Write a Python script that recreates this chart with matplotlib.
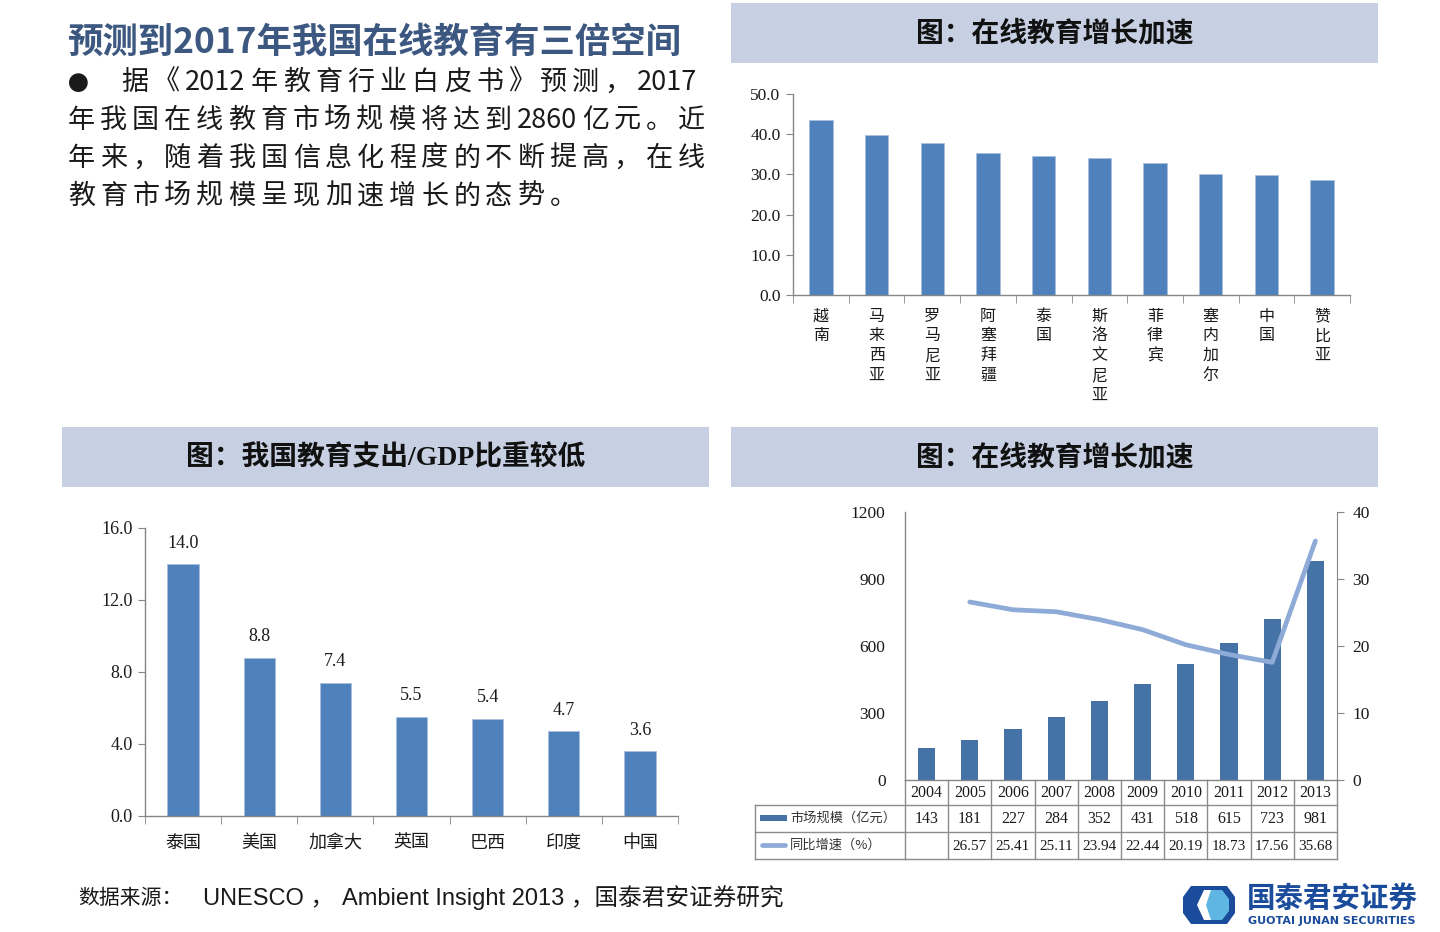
import re
import numpy as np
import matplotlib
matplotlib.use('Agg')
import matplotlib.pyplot as plt
from matplotlib.patches import Rectangle, Polygon
from matplotlib.lines import Line2D
from matplotlib.transforms import blended_transform_factory

# ---------------- data ----------------
countries_top = ['越南', '马来西亚', '罗马尼亚', '阿塞拜疆', '泰国', '斯洛文尼亚',
                 '菲律宾', '塞内加尔', '中国', '赞比亚']
values_top = [43.6, 39.7, 37.9, 35.3, 34.6, 34.2, 32.8, 30.2, 29.9, 28.6]
yticks_top = [0, 10, 20, 30, 40, 50]

countries_gdp = ['泰国', '美国', '加拿大', '英国', '巴西', '印度', '中国']
values_gdp = [14.0, 8.8, 7.4, 5.5, 5.4, 4.7, 3.6]
yticks_gdp = [0, 4, 8, 12, 16]

years = ['2004', '2005', '2006', '2007', '2008', '2009', '2010', '2011', '2012', '2013']
market = [143, 181, 227, 284, 352, 431, 518, 615, 723, 981]
growth = [np.nan, 26.57, 25.41, 25.11, 23.94, 22.44, 20.19, 18.73, 17.56, 35.68]
yticks_market = [0, 300, 600, 900, 1200]
yticks_growth = [0, 10, 20, 30, 40]
legend_market = '市场规模（亿元）'
legend_growth = '同比增速（%）'

title = '预测到2017年我国在线教育有三倍空间'
body_lines = ['据《2012年教育行业白皮书》预测，2017',
              '年我国在线教育市场规模将达到2860亿元。近',
              '年来，随着我国信息化程度的不断提高，在线',
              '教育市场规模呈现加速增长的态势。']
header_top = '图：在线教育增长加速'
header_bl = '图：我国教育支出/GDP比重较低'
header_br = '图：在线教育增长加速'

# ---------------- style ----------------
CJK = ['Noto Sans CJK SC', 'DejaVu Sans']
SERIF = ['Liberation Serif', 'Noto Sans CJK SC']
SANS = ['Liberation Sans', 'Noto Sans CJK SC']
plt.rcParams['font.family'] = SERIF
BAR = '#4f81bd'
BAR2 = '#4572a7'
LINE = '#8eaad6'
SPINE = '#868686'
HEAD = '#c6d0e2'
TXT = '#1a1a1a'

W, H = 1440, 932
fig = plt.figure(figsize=(14.4, 9.32), dpi=100)
fig.patch.set_facecolor('white')


def rect(x0, y0, x1, y1):
    return [x0 / W, 1 - y1 / H, (x1 - x0) / W, (y1 - y0) / H]


canvas = fig.add_axes([0, 0, 1, 1], zorder=0)
canvas.set_xlim(0, W)
canvas.set_ylim(H, 0)
canvas.axis('off')
renderer = fig.canvas.get_renderer()

# ---------------- header boxes ----------------
for (x0, y0, x1, y1), txt in [((731, 3, 1378, 63), header_top),
                              ((62, 427, 709, 487), header_bl),
                              ((731, 427, 1378, 487), header_br)]:
    canvas.add_patch(Rectangle((x0, y0), x1 - x0, y1 - y0, color=HEAD, lw=0))
    canvas.text((x0 + x1) / 2, (y0 + y1) / 2 + 1, txt, ha='center', va='center',
                fontsize=20, fontweight='bold', family=SERIF, color='#111')

# ---------------- left text block ----------------
canvas.text(68, 42, title, fontsize=25.5, fontweight='bold', color='#3c5780',
            family=CJK, ha='left', va='center')


def spaced(text, x0, y, fs, x1=None, gap=None):
    toks = re.findall(r'\d+|.', text)
    ts = [canvas.text(0, y, t, fontsize=fs, family=CJK, color=TXT,
                      ha='left', va='center') for t in toks]
    ws = [t.get_window_extent(renderer).width for t in ts]
    if x1 is not None:
        gap = (x1 - x0 - sum(ws)) / (len(toks) - 1)
    x = x0
    for t, w in zip(ts, ws):
        t.set_x(x)
        x += w + gap
    return gap


canvas.text(68, 84, '●', fontsize=15, family=CJK, color=TXT, ha='left', va='center')
fs_body = 19.5
spaced(body_lines[0], 121, 82, fs_body, x1=697)
spaced(body_lines[1], 68, 120, fs_body, x1=705)
g = spaced(body_lines[2], 68, 158, fs_body, x1=705)
spaced(body_lines[3], 68, 196, fs_body, gap=g)


def style_axes(ax):
    for s in ['top', 'right']:
        ax.spines[s].set_visible(False)
    for s in ['left', 'bottom']:
        ax.spines[s].set_color(SPINE)
        ax.spines[s].set_linewidth(1.0)
    ax.set_facecolor('none')


# ---------------- top-right chart ----------------
ax1 = fig.add_axes(rect(793, 94, 1350, 295), zorder=2)
x1 = np.arange(len(values_top))
ax1.bar(x1, values_top, width=0.42, color=BAR, edgecolor='#a9bfdc', linewidth=0.6)
ax1.set_xlim(-0.5, len(values_top) - 0.5)
ax1.set_ylim(0, 50)
ax1.set_yticks(yticks_top)
ax1.set_yticklabels([f'{v:.1f}' for v in yticks_top], fontsize=12.5, color=TXT)
ax1.set_xticks(x1)
ax1.set_xticklabels(['\n'.join(c) for c in countries_top], fontsize=11.5,
                    family=CJK, color=TXT, linespacing=1.22)
ax1.set_xticks(np.arange(-0.5, len(values_top), 1), minor=True)
ax1.tick_params(axis='x', which='major', length=0, pad=9)
ax1.tick_params(axis='x', which='minor', length=6, color=SPINE, direction='out')
ax1.tick_params(axis='y', length=5, color=SPINE, pad=4)
style_axes(ax1)

# ---------------- bottom-left chart ----------------
ax2 = fig.add_axes(rect(145, 528, 678, 816), zorder=2)
x2 = np.arange(len(values_gdp))
ax2.bar(x2, values_gdp, width=0.41, color=BAR, edgecolor='#a9bfdc', linewidth=0.6)
for xi, v in zip(x2, values_gdp):
    ax2.annotate(f'{v:.1f}', (xi, v), xytext=(0, 9), textcoords='offset points',
                 ha='center', va='bottom', fontsize=13, color=TXT)
ax2.set_xlim(-0.5, len(values_gdp) - 0.5)
ax2.set_ylim(0, 16)
ax2.set_yticks(yticks_gdp)
ax2.set_yticklabels([f'{v:.1f}' for v in yticks_gdp], fontsize=13, color=TXT)
ax2.set_xticks(x2)
ax2.set_xticklabels(countries_gdp, fontsize=13, family=CJK, color=TXT)
ax2.set_xticks(np.arange(-0.5, len(values_gdp), 1), minor=True)
ax2.tick_params(axis='x', which='major', length=0, pad=13)
ax2.tick_params(axis='x', which='minor', length=6, color=SPINE, direction='out')
ax2.tick_params(axis='y', length=5, color=SPINE, pad=4)
style_axes(ax2)

# ---------------- bottom-right chart ----------------
ax3 = fig.add_axes(rect(905, 512, 1337, 780), zorder=2)
x3 = np.arange(len(years))
ax3.bar(x3, market, width=0.4, color=BAR2)
ax3.set_xlim(-0.5, len(years) - 0.5)
ax3.set_ylim(0, 1200)
ax3.set_yticks(yticks_market)
ax3.set_yticklabels([str(v) for v in yticks_market], fontsize=12.5, color=TXT)
ax3.set_xticks([])
ax3.tick_params(axis='y', length=0, pad=14)
style_axes(ax3)

ax4 = ax3.twinx()
ax4.set_zorder(3)
ax4.plot(x3, growth, color=LINE, lw=3.4, solid_capstyle='round',
         solid_joinstyle='round')
ax4.set_ylim(0, 40)
ax4.set_yticks(yticks_growth)
ax4.set_yticklabels([str(v) for v in yticks_growth], fontsize=12.5, color=TXT)
ax4.tick_params(axis='y', length=5, color=SPINE, pad=6)
for s in ['top', 'left', 'bottom']:
    ax4.spines[s].set_visible(False)
ax4.spines['right'].set_color(SPINE)
ax4.set_facecolor('none')

# ---------------- data table under bottom-right chart ----------------
trans = blended_transform_factory(ax3.transData, canvas.transData)
tcol = '#8c8c8c'
n = len(years)
left_px, right_ax = 755, n - 0.5
for yy in [805, 832, 859]:
    canvas.add_line(Line2D([left_px, 905], [yy, yy], color=tcol, lw=1))
    canvas.add_line(Line2D([-0.5, right_ax], [yy, yy], color=tcol, lw=1, transform=trans))
for b in np.arange(-0.5, n, 1):
    canvas.add_line(Line2D([b, b], [780, 859], color=tcol, lw=1, transform=trans))
canvas.add_line(Line2D([left_px, left_px], [805, 859], color=tcol, lw=1))
for i in range(n):
    canvas.text(i, 793, years[i], transform=trans, ha='center', va='center',
                fontsize=11.5, color=TXT)
    canvas.text(i, 819, str(market[i]), transform=trans, ha='center', va='center',
                fontsize=11.5, color=TXT)
    if not np.isnan(growth[i]):
        canvas.text(i, 846, f'{growth[i]:.2f}', transform=trans, ha='center',
                    va='center', fontsize=11, color=TXT)
canvas.add_patch(Rectangle((760, 815), 27, 6, color=BAR2, lw=0))
canvas.add_line(Line2D([762, 785], [845, 845], color=LINE, lw=3.4, solid_capstyle='round'))
canvas.text(790, 818, legend_market, fontsize=9.5, family=CJK, color='#333',
            ha='left', va='center')
canvas.text(790, 845, legend_growth, fontsize=9.5, family=CJK, color='#333',
            ha='left', va='center')

# ---------------- footer ----------------
canvas.text(78, 898, '数据来源：', fontsize=15, family=CJK, color=TXT, ha='left', va='center')
canvas.text(203, 898, 'UNESCO ，', fontsize=17, family=SANS, color=TXT, ha='left', va='center')
canvas.text(342, 898, 'Ambient Insight 2013 ，国泰君安证券研究', fontsize=17, family=SANS,
            color=TXT, ha='left', va='center')

# ---------------- logo ----------------
dark = '#1b4c9c'
canvas.add_patch(Polygon([(1191, 886), (1227, 886), (1235, 897), (1235, 913), (1227, 924),
                          (1191, 924), (1183, 913), (1183, 897)], closed=True, color=dark, lw=0))
canvas.add_patch(Polygon([(1204, 890), (1216, 890), (1216, 920), (1204, 920), (1197, 905)],
                         closed=True, color='white', lw=0))
canvas.add_patch(Polygon([(1211, 890), (1222, 890), (1229, 899), (1229, 911), (1222, 920),
                          (1211, 920), (1206, 905)], closed=True, color='#5fb6e3', lw=0))
canvas.text(1247, 898.5, '国泰君安证券', fontsize=20.5, fontweight='bold', family=CJK,
            color=dark, ha='left', va='center')
canvas.text(1248, 920.5, 'GUOTAI JUNAN SECURITIES', fontsize=8.0, fontweight='bold',
            family=['DejaVu Sans'], color=dark, ha='left', va='center')

fig.savefig('out.png', dpi=100, facecolor='white')
